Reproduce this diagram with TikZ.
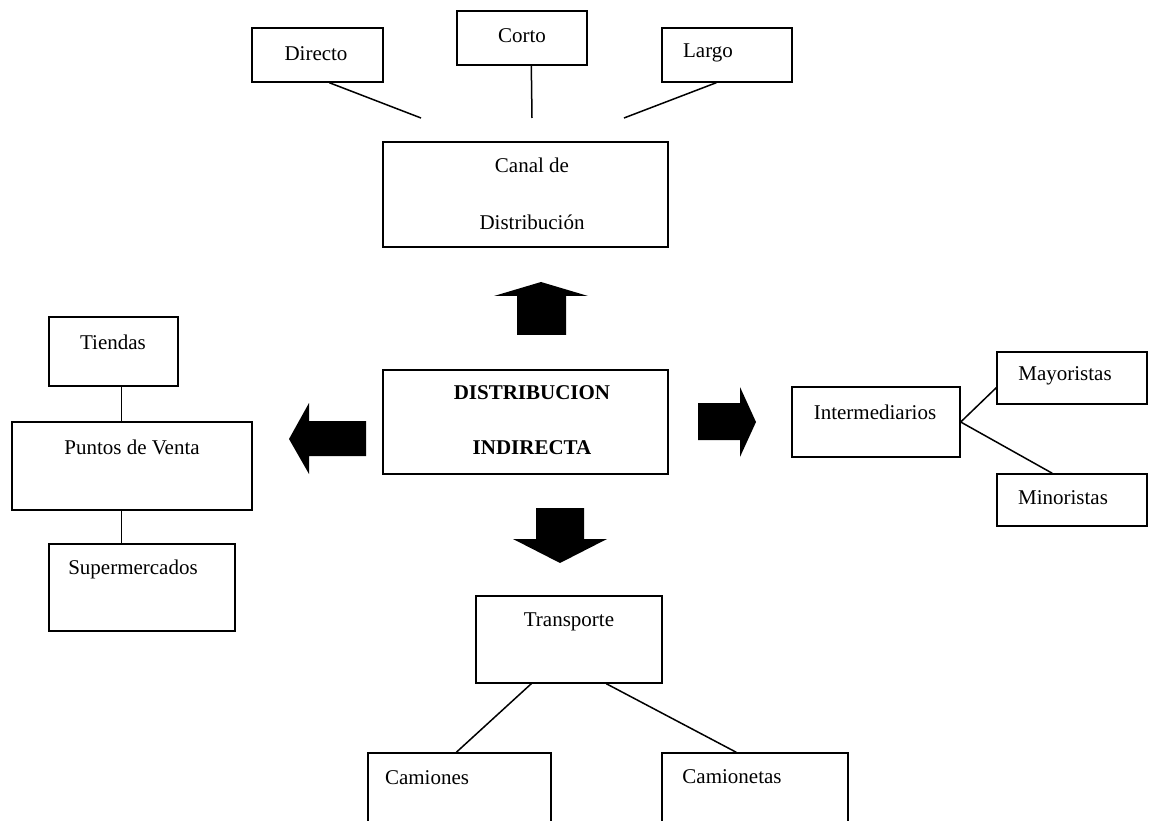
\documentclass[tikz,border=0pt]{standalone}
\usepackage{fontspec}
\setmainfont{Liberation Serif}
\usetikzlibrary{calc}
\begin{document}
\begin{tikzpicture}[x=1pt,y=-1pt,
  box/.style={draw, rectangle, inner sep=0pt, line width=1.4pt},
  txt/.style={font=\fontsize{21}{25}\selectfont, inner sep=0pt},
  btxt/.style={font=\fontsize{21}{25}\selectfont\bfseries, inner sep=0pt},
  conn/.style={line width=1.5pt},
  blockarrow/.style={fill=black}]
\fill[white] (0,0) rectangle (1171,821);
\useasboundingbox (0,0) rectangle (1171,821);

% top row
\node[box, minimum width=131pt, minimum height=54pt] (directo) at (317.5,55) {};
\node[txt] (tdirecto) at (316,54) {Directo};
\node[box, minimum width=130pt, minimum height=54pt] (corto) at (522,38) {};
\node[txt] (tcorto) at (522,36) {Corto};
\node[box, minimum width=130pt, minimum height=54pt] (largo) at (727,55) {};
\node[txt] (tlargo) at (708,53) {Largo};
\coordinate (dEnd) at (421,118);
\coordinate (cEnd) at (532,118);
\coordinate (lEnd) at (624,118);
\draw[conn] ($(directo.south west)+(78,0)$) -- (dEnd);
\draw[conn] ($(corto.south west)+(75,0)$) -- (cEnd);
\draw[conn] ($(largo.south west)+(55,0)$) -- (lEnd);

% canal
\node[box, minimum width=285pt, minimum height=105pt] (canal) at (525.5,194.5) {};
\node[txt] (tcanal1) at (532,165) {Canal de};
\node[txt] (tcanal2) at (532,222) {Distribución};

% main
\node[box, minimum width=285pt, minimum height=104pt] (main) at (525.5,422) {};
\node[btxt] (tmain1) at (532,393) {DISTRIBUCION};
\node[btxt] (tmain2) at (532,448) {INDIRECTA};

% block arrows
\fill[blockarrow] (541,282) -- (588,296) -- (566,296) -- (566,335) -- (517,335) -- (517,296) -- (494,296) -- cycle;
\fill[blockarrow] (536,508) -- (584,508) -- (584,539) -- (607,539) -- (560,563) -- (513,539) -- (536,539) -- cycle;
\fill[blockarrow] (289,439) -- (309,403) -- (309,421) -- (366,421) -- (366,456) -- (309,456) -- (309,474) -- cycle;
\fill[blockarrow] (698,403) -- (740,403) -- (740,387) -- (756,422) -- (740,457) -- (740,440) -- (698,440) -- cycle;

% left group
\node[box, minimum width=129pt, minimum height=69pt] (tiendas) at (113.5,351.5) {};
\node[txt] (ttiendas) at (113,342) {Tiendas};
\node[box, minimum width=240pt, minimum height=88pt] (puntos) at (132,466) {};
\node[txt] (tpuntos) at (132,447) {Puntos de Venta};
\node[box, minimum width=186pt, minimum height=87pt] (super) at (142,587.5) {};
\node[txt] (tsuper) at (133,569) {Supermercados};
\coordinate (tp) at ($(tiendas.south west)+(73,0)$);
\draw[conn] (tp) -- (tp |- puntos.north);
\coordinate (ps) at ($(puntos.south west)+(110,0)$);
\draw[conn] (ps) -- (ps |- super.north);

% right group
\node[box, minimum width=168pt, minimum height=70pt] (inter) at (876,422) {};
\node[txt] (tinter) at (875,412) {Intermediarios};
\node[box, minimum width=150pt, minimum height=52pt] (mayor) at (1072,378) {};
\node[txt] (tmayor) at (1065,376) {Mayoristas};
\node[box, minimum width=150pt, minimum height=52pt] (minor) at (1072,500) {};
\node[txt] (tminor) at (1063,498) {Minoristas};
\draw[conn] (inter.east) -- ($(mayor.south west)+(0,-17)$);
\draw[conn] (inter.east) -- ($(minor.north west)+(56,0)$);

% bottom group
\node[box, minimum width=186pt, minimum height=87pt] (trans) at (569,639.5) {};
\node[txt] (ttrans) at (569,622) {Transporte};
\node[box, minimum width=183pt, minimum height=97pt] (camiones) at (459.5,801.5) {};
\node[txt] (tcamiones) at (427,778) {Camiones};
\node[box, minimum width=186pt, minimum height=97pt] (camionetas) at (755,801.5) {};
\node[txt] (tcamionetas) at (732,777) {Camionetas};
\draw[conn] ($(trans.south west)+(56,0)$) -- ($(camiones.north west)+(89,0)$);
\draw[conn] ($(trans.south west)+(131,0)$) -- ($(camionetas.north west)+(75,0)$);
\end{tikzpicture}
\end{document}
